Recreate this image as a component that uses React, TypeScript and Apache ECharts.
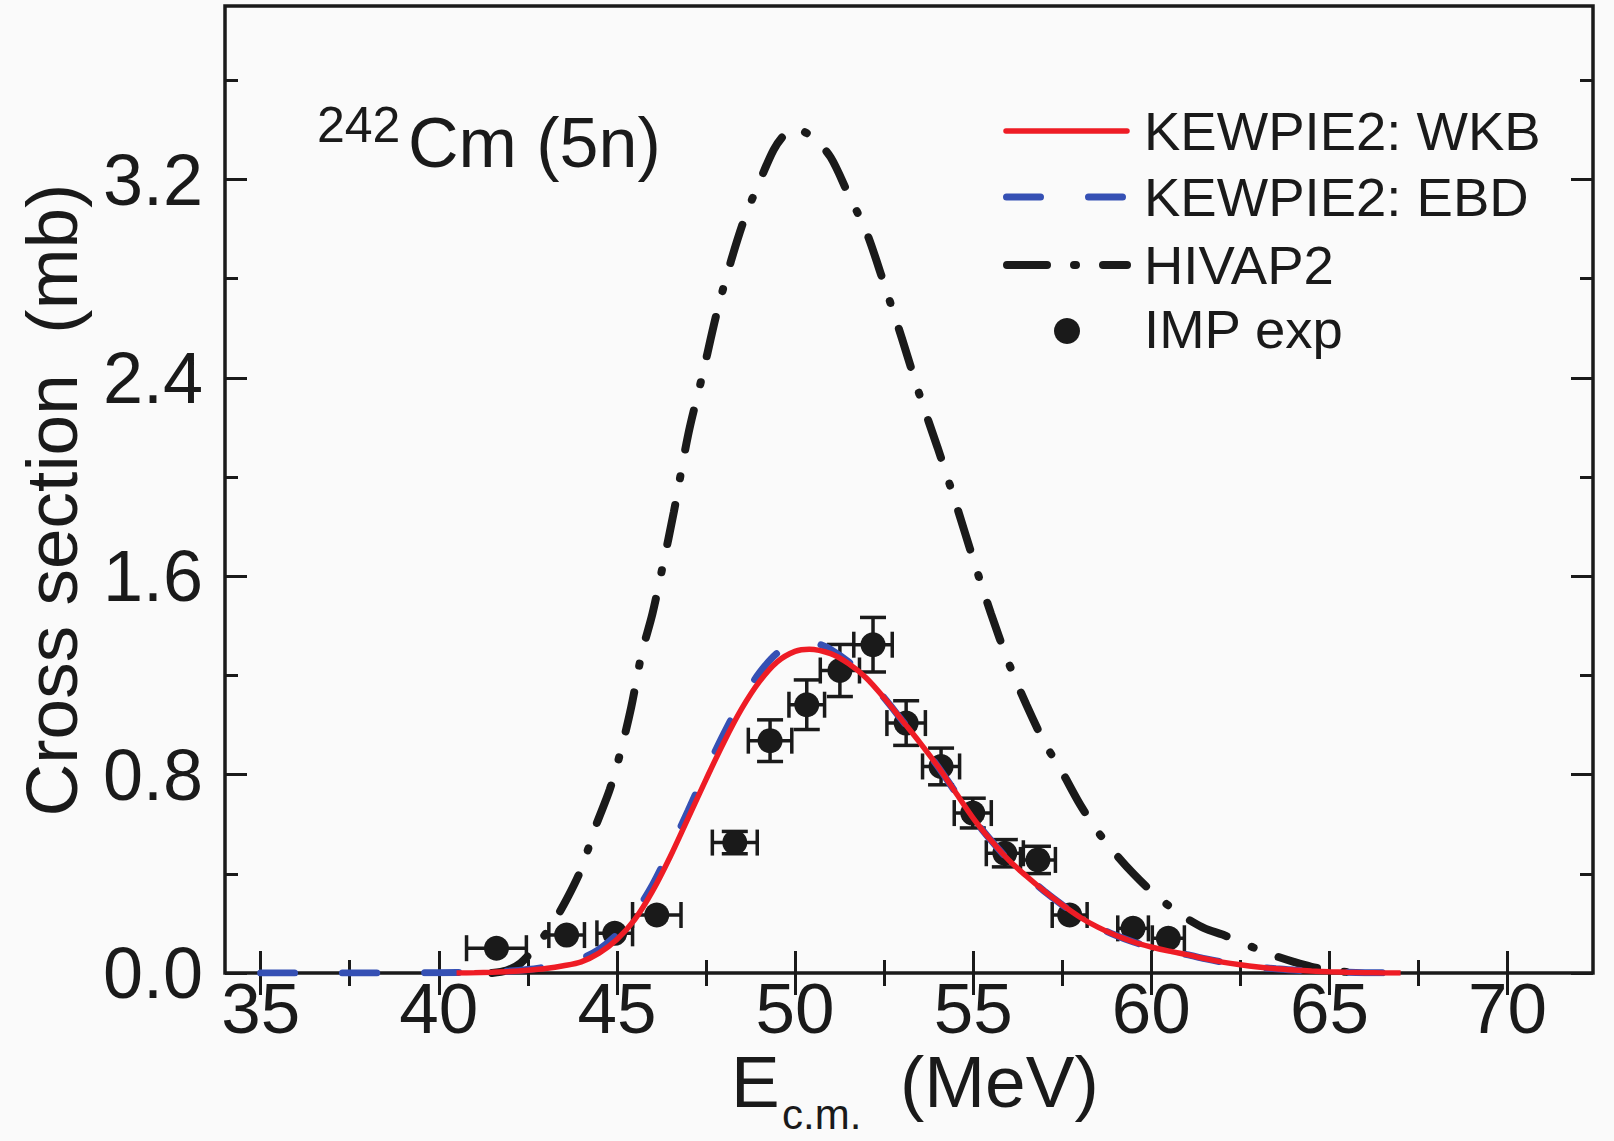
import React, { useEffect, useRef } from 'react'
import * as echarts from 'echarts'

// axis ticks
const xMajorTicks = [35, 40, 45, 50, 55, 60, 65, 70]
const xMinorTicks = [37.5, 42.5, 47.5, 52.5, 57.5, 62.5, 67.5]
const yMajorTicks = [0, 0.8, 1.6, 2.4, 3.2]
const yMinorTicks = [0.4, 1.2, 2.0, 2.8, 3.6]

// IMP experiment (E_cm in MeV, cross section in mb)
const expE = [41.62, 43.59, 44.94, 46.12, 48.31, 49.3, 50.33, 51.26, 52.19, 53.12, 54.1, 54.99, 55.89, 56.82, 57.71, 59.49, 60.48]
const expSigma = [0.1, 0.153, 0.16, 0.234, 0.526, 0.937, 1.082, 1.22, 1.324, 1.008, 0.833, 0.645, 0.483, 0.456, 0.234, 0.18, 0.14]
const expErrE = [0.84, 0.5, 0.5, 0.68, 0.63, 0.61, 0.5, 0.55, 0.54, 0.54, 0.52, 0.52, 0.52, 0.49, 0.49, 0.43, 0.45]
const expErrSigma = [0, 0, 0, 0, 0.045, 0.084, 0.1, 0.105, 0.11, 0.09, 0.074, 0.06, 0.055, 0.055, 0, 0, 0]

// KEWPIE2: WKB
const wkbE = [40.5, 41, 41.5, 42, 42.5, 43, 43.5, 44, 44.5, 45, 45.5, 46, 46.5, 47, 47.5, 48, 48.5, 49, 49.5, 50, 50.4, 51, 51.5, 52, 52.5, 53, 53.5, 54, 54.5, 55, 55.5, 56, 56.5, 57, 57.5, 58, 58.5, 59, 59.5, 60, 60.5, 61, 61.5, 62, 62.5, 63, 63.5, 64, 64.5, 65, 65.5, 66, 66.5, 67]
const wkbSigma = [0, 0.001, 0.003, 0.006, 0.011, 0.018, 0.029, 0.045, 0.08, 0.135, 0.215, 0.33, 0.47, 0.625, 0.78, 0.93, 1.065, 1.175, 1.255, 1.297, 1.306, 1.288, 1.248, 1.19, 1.11, 1.02, 0.93, 0.835, 0.73, 0.625, 0.535, 0.455, 0.39, 0.33, 0.275, 0.225, 0.185, 0.152, 0.125, 0.105, 0.088, 0.074, 0.058, 0.044, 0.033, 0.024, 0.017, 0.012, 0.008, 0.005, 0.003, 0.0015, 0.0005, 0]

// KEWPIE2: EBD
const ebdE = [35, 37, 39, 40, 41, 42, 42.5, 43, 43.5, 44, 44.5, 45, 45.5, 46, 46.5, 47, 47.5, 48, 48.5, 49, 49.5, 50, 50.3, 50.7, 51, 51.5, 52, 52.5, 53, 53.5, 54, 54.5, 55, 55.5, 56, 56.5, 57, 57.5, 58, 58.5, 59, 59.5, 60, 60.5, 61, 61.5, 62, 62.5, 63, 63.5, 64, 64.5, 65, 65.5, 66, 66.5, 67]
const ebdSigma = [0, 0, 0.0003, 0.001, 0.003, 0.008, 0.014, 0.024, 0.038, 0.058, 0.095, 0.155, 0.24, 0.355, 0.5, 0.655, 0.815, 0.965, 1.1, 1.21, 1.29, 1.33, 1.337, 1.325, 1.305, 1.255, 1.19, 1.11, 1.02, 0.93, 0.835, 0.73, 0.625, 0.535, 0.455, 0.39, 0.33, 0.275, 0.225, 0.185, 0.152, 0.125, 0.105, 0.088, 0.074, 0.058, 0.044, 0.033, 0.024, 0.017, 0.012, 0.008, 0.005, 0.003, 0.0015, 0.0005, 0]

// HIVAP2
const hivapE = [41.5, 41.9, 42.3, 42.8, 43.2, 43.6, 44, 44.4, 44.8, 45.1, 45.4, 45.7, 46, 46.3, 46.6, 47, 47.4, 47.8, 48.2, 48.6, 49, 49.4, 49.7, 50, 50.5, 51, 51.5, 52, 52.5, 53, 53.5, 54, 54.5, 55, 55.5, 56, 56.5, 57, 57.5, 58, 58.5, 59, 59.5, 60, 60.5, 61, 61.5, 62, 62.5, 63, 63.5, 64, 64.5, 65, 65.5]
const hivapSigma = [0, 0.01, 0.04, 0.12, 0.2, 0.3, 0.42, 0.59, 0.74, 0.89, 1.07, 1.29, 1.45, 1.65, 1.86, 2.17, 2.41, 2.66, 2.87, 3.05, 3.19, 3.32, 3.38, 3.405, 3.37, 3.29, 3.14, 2.99, 2.78, 2.56, 2.33, 2.12, 1.9, 1.67, 1.45, 1.25, 1.08, 0.93, 0.81, 0.68, 0.57, 0.48, 0.4, 0.33, 0.27, 0.22, 0.18, 0.155, 0.125, 0.095, 0.068, 0.045, 0.025, 0.012, 0.004]

const FONT = "'Liberation Sans', Arial, Helvetica, sans-serif"
const INK = '#1a1a1a'
const RED = '#ee1c25'
const BLUE = '#3550b4'

const pairs = (xs: number[], ys: number[]) => xs.map((x, i) => [x, ys[i]])

const makeX = (position: string, ticks: number[], len: number, labels: boolean) => ({
  type: 'value',
  gridIndex: 0,
  position,
  min: 34,
  max: 72.4,
  axisLine: { show: false },
  splitLine: { show: false },
  axisTick: { show: true, inside: true, length: len, customValues: ticks, lineStyle: { color: INK, width: 3 } },
  axisLabel: labels
    ? { show: true, customValues: ticks, margin: 8, fontSize: 71, lineHeight: 54, color: INK, fontFamily: FONT, formatter: (v: number) => String(v) }
    : { show: false },
})

const makeY = (position: string, ticks: number[], len: number, labels: boolean) => ({
  type: 'value',
  gridIndex: 0,
  position,
  min: 0,
  max: 3.9,
  axisLine: { show: false },
  splitLine: { show: false },
  axisTick: { show: true, inside: true, length: len, customValues: ticks, lineStyle: { color: INK, width: 3 } },
  axisLabel: labels
    ? { show: true, customValues: ticks, margin: 22, fontSize: 72, lineHeight: 56, color: INK, fontFamily: FONT, formatter: (v: number) => v.toFixed(1) }
    : { show: false },
})

const label = (text: string, x: number, y: number, size: number) => ({
  type: 'text',
  x,
  y,
  style: { text, font: `${size}px ${FONT}`, lineHeight: Math.round(size * 0.78), fill: INK, textAlign: 'left', textVerticalAlign: 'middle' },
})

const App = () => {
  const chartRef = useRef<HTMLDivElement>(null)

  useEffect(() => {
    if (!chartRef.current) return
    const chart = echarts.init(chartRef.current, null, { renderer: 'svg' })

    const errData = expE.map((e, i) => [e, expSigma[i], expErrE[i], expErrSigma[i]])

    const option = {
      animation: false,
      backgroundColor: '#fafafa',
      grid: {
        show: true,
        left: 225,
        top: 6,
        width: 1368,
        height: 967,
        borderColor: INK,
        borderWidth: 3.5,
        backgroundColor: 'transparent',
      },
      xAxis: [
        makeX('bottom', xMajorTicks, 22, true),
        makeX('bottom', xMinorTicks, 13, false),
        makeX('top', xMajorTicks, 22, false),
        makeX('top', xMinorTicks, 13, false),
      ],
      yAxis: [
        makeY('left', yMajorTicks, 22, true),
        makeY('left', yMinorTicks, 13, false),
        makeY('right', yMajorTicks, 22, false),
        makeY('right', yMinorTicks, 13, false),
      ],
      series: [
        {
          name: 'IMP exp error',
          type: 'custom',
          xAxisIndex: 0,
          yAxisIndex: 0,
          z: 2,
          encode: { x: 0, y: 1 },
          data: errData,
          renderItem: (params: any, api: any) => {
            const x = api.value(0)
            const y = api.value(1)
            const ex = api.value(2)
            const ey = api.value(3)
            const cap = 13
            const st = { stroke: INK, lineWidth: 3.5 }
            const l = api.coord([x - ex, y])
            const r = api.coord([x + ex, y])
            const children: any[] = [
              { type: 'line', shape: { x1: l[0], y1: l[1], x2: r[0], y2: r[1] }, style: st },
              { type: 'line', shape: { x1: l[0], y1: l[1] - cap, x2: l[0], y2: l[1] + cap }, style: st },
              { type: 'line', shape: { x1: r[0], y1: r[1] - cap, x2: r[0], y2: r[1] + cap }, style: st },
            ]
            if (ey > 0) {
              const t = api.coord([x, y + ey])
              const b = api.coord([x, y - ey])
              children.push(
                { type: 'line', shape: { x1: t[0], y1: t[1], x2: b[0], y2: b[1] }, style: st },
                { type: 'line', shape: { x1: t[0] - cap, y1: t[1], x2: t[0] + cap, y2: t[1] }, style: st },
                { type: 'line', shape: { x1: b[0] - cap, y1: b[1], x2: b[0] + cap, y2: b[1] }, style: st },
              )
            }
            return { type: 'group', children }
          },
        },
        {
          name: 'IMP exp',
          type: 'scatter',
          xAxisIndex: 0,
          yAxisIndex: 0,
          z: 3,
          symbol: 'circle',
          symbolSize: 25,
          itemStyle: { color: INK, opacity: 1 },
          data: pairs(expE, expSigma),
        },
        {
          name: 'HIVAP2',
          type: 'line',
          xAxisIndex: 0,
          yAxisIndex: 0,
          z: 4,
          smooth: 0.3,
          showSymbol: false,
          lineStyle: { color: INK, width: 8, type: [40, 27, 2, 27], cap: 'round' },
          data: pairs(hivapE, hivapSigma),
        },
        {
          name: 'KEWPIE2: EBD',
          type: 'line',
          xAxisIndex: 0,
          yAxisIndex: 0,
          z: 5,
          smooth: 0.3,
          showSymbol: false,
          lineStyle: { color: BLUE, width: 7, type: [34, 48], cap: 'round' },
          data: pairs(ebdE, ebdSigma),
        },
        {
          name: 'KEWPIE2: WKB',
          type: 'line',
          xAxisIndex: 0,
          yAxisIndex: 0,
          z: 6,
          smooth: 0.3,
          showSymbol: false,
          lineStyle: { color: RED, width: 5.5 },
          data: pairs(wkbE, wkbSigma),
        },
      ],
      graphic: [
        // axis titles
        {
          type: 'text',
          x: 51,
          y: 500,
          rotation: Math.PI / 2,
          style: { text: 'Cross section  (mb)', font: `73px ${FONT}`, lineHeight: 58, fill: INK, textAlign: 'center', textVerticalAlign: 'middle' },
        },
        label('E', 731, 1081, 73),
        label('c.m.', 782, 1114, 42),
        label('(MeV)', 900, 1081, 73),
        // annotation
        label('242', 317, 125, 50),
        label('Cm (5n)', 408, 143, 70),
        // legend
        { type: 'line', shape: { x1: 1006, y1: 131, x2: 1127, y2: 131 }, style: { stroke: RED, lineWidth: 5.5, lineCap: 'round' } },
        { type: 'line', shape: { x1: 1006.5, y1: 197, x2: 1123, y2: 197 }, style: { stroke: BLUE, lineWidth: 7, lineCap: 'round', lineDash: [34, 48] } },
        { type: 'line', shape: { x1: 1007, y1: 265, x2: 1127, y2: 265 }, style: { stroke: INK, lineWidth: 8, lineCap: 'round', lineDash: [40, 27, 2, 27] } },
        { type: 'circle', shape: { cx: 1067, cy: 331, r: 13 }, style: { fill: INK } },
        label('KEWPIE2: WKB', 1144, 131, 54.5),
        label('KEWPIE2: EBD', 1144, 197, 54.5),
        label('HIVAP2', 1144, 265, 54.5),
        label('IMP exp', 1144, 329, 54.5),
      ],
    }

    try {
      chart.setOption(option as any)
    } catch (err) {
      console.error('Error setting chart options:', err)
    }

    return () => {
      chart.dispose()
    }
  }, [])

  return (
    <div
      ref={chartRef}
      style={{ position: 'absolute', left: 0, top: 0, width: '1614px', height: '1141px' }}
    />
  )
}

export default App
